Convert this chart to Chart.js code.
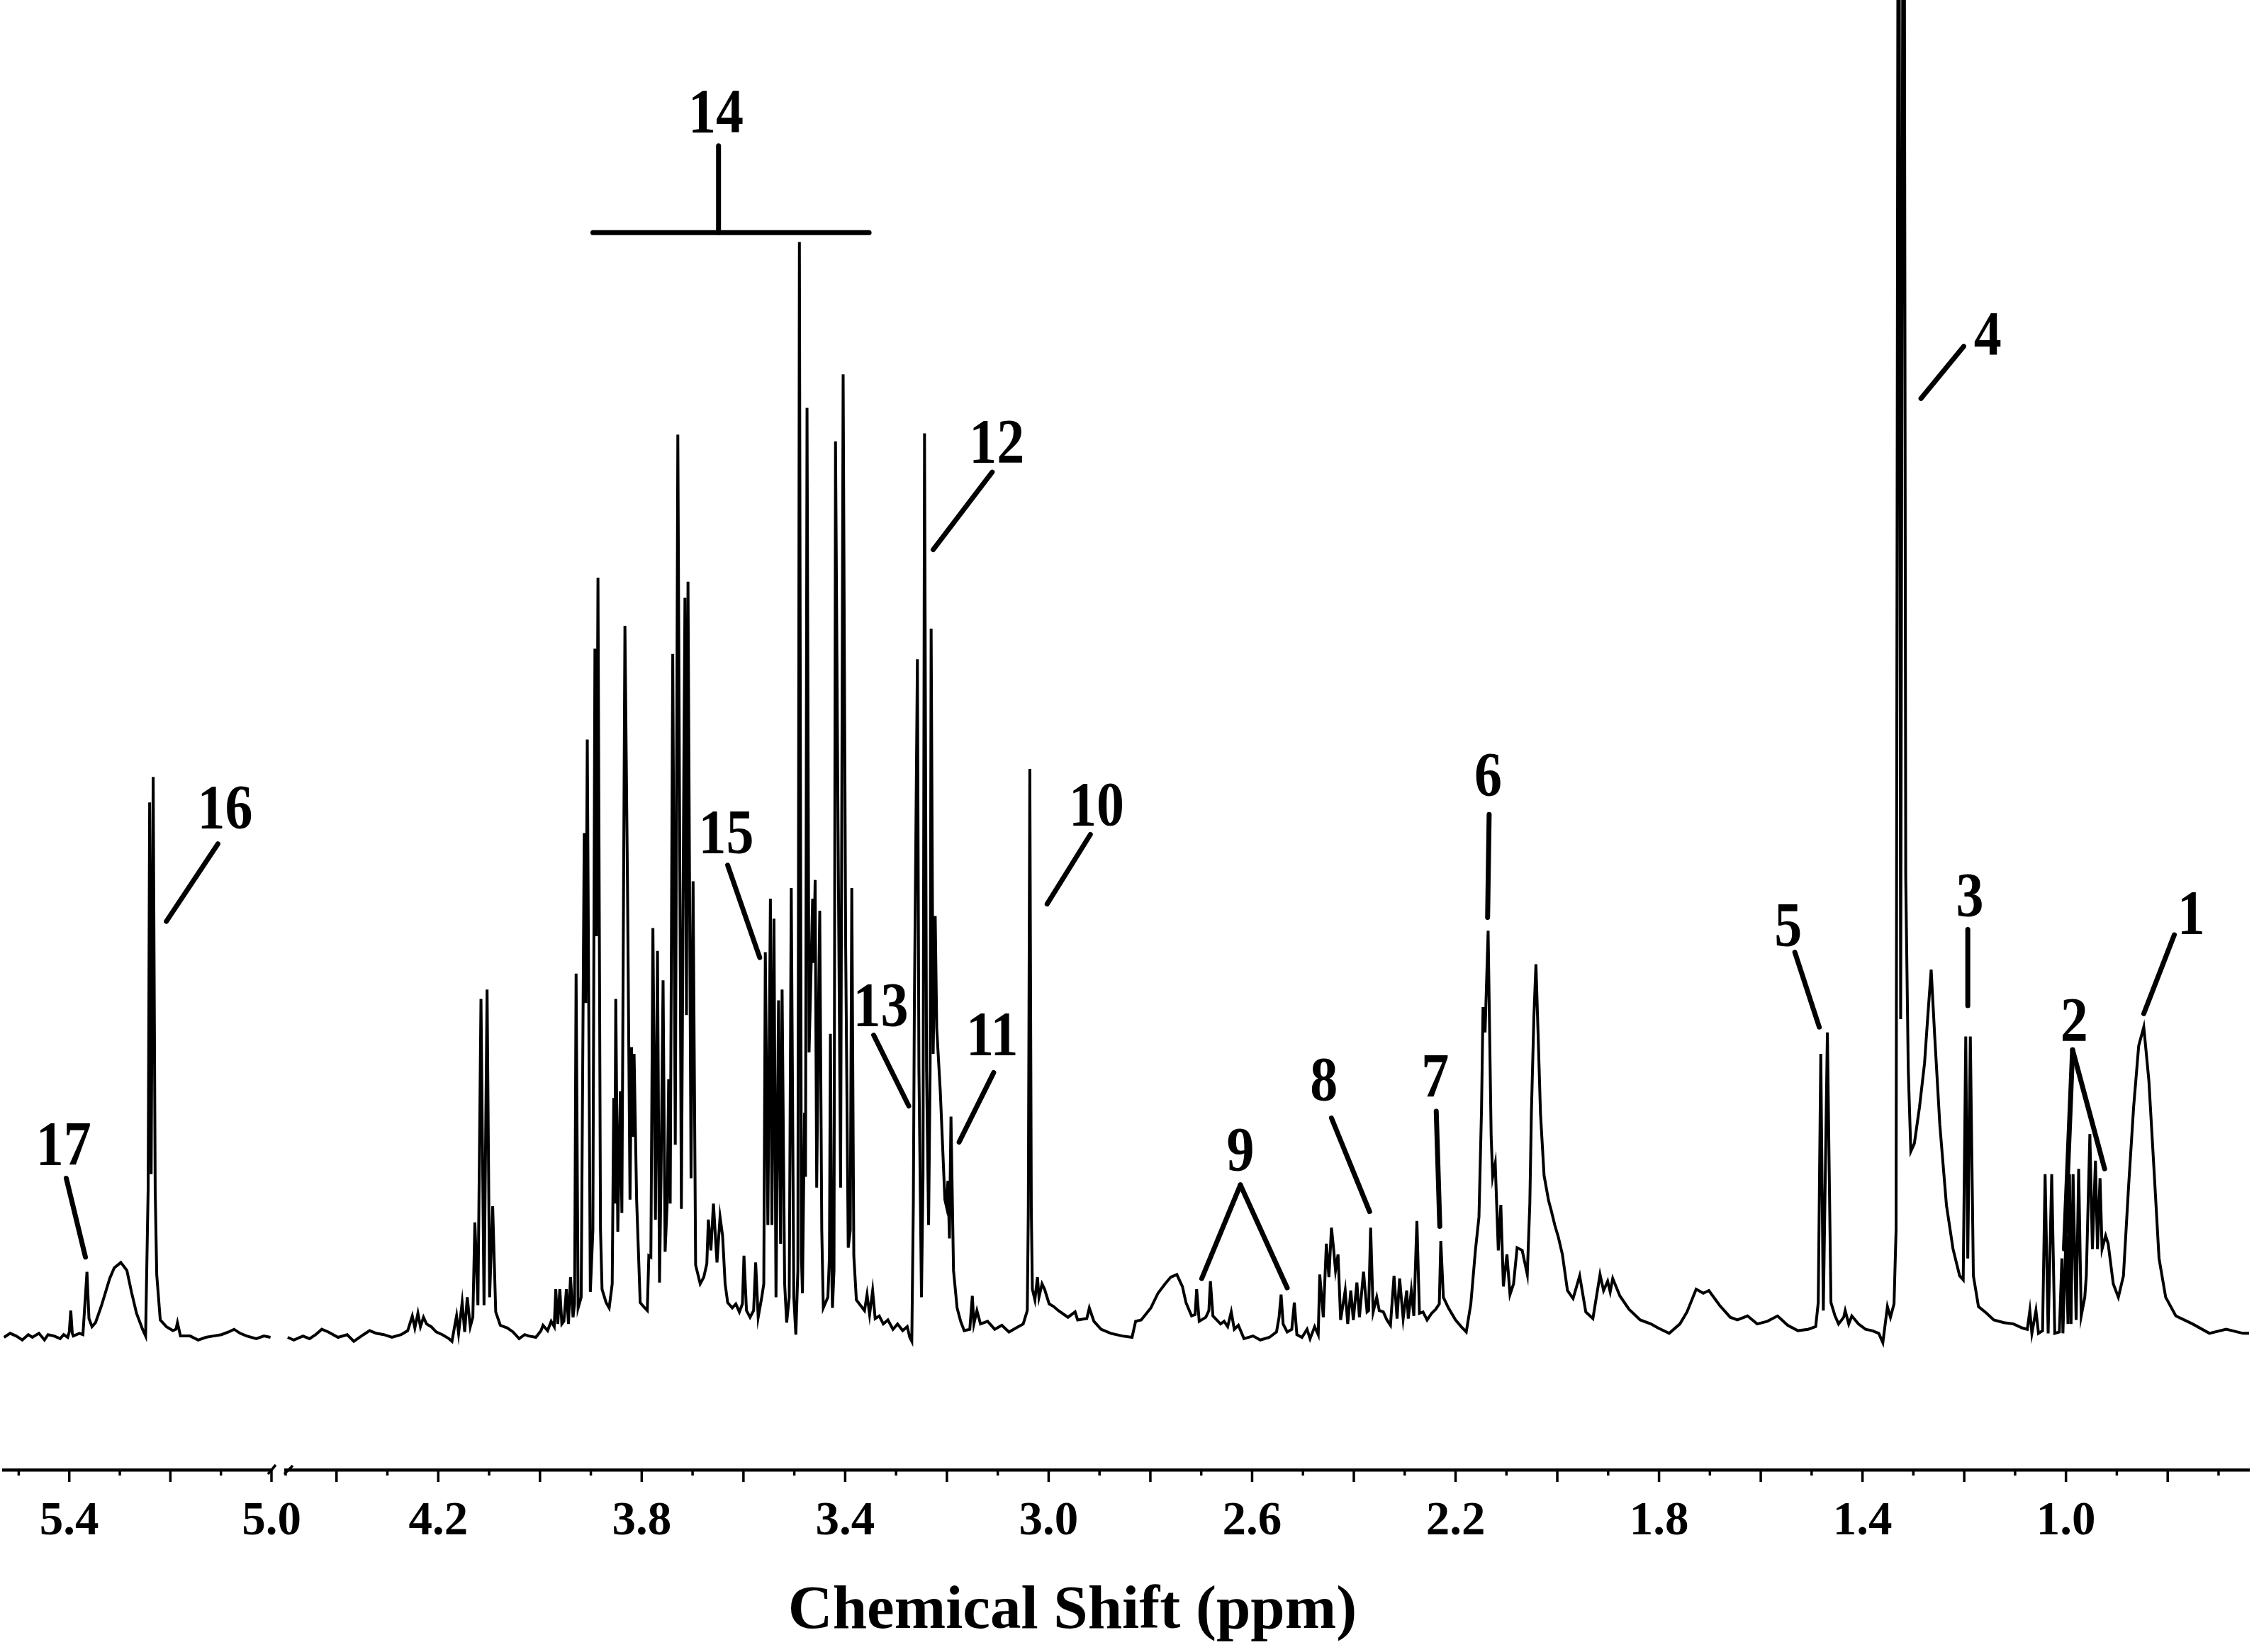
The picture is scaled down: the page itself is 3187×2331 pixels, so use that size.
<!DOCTYPE html>
<html>
<head>
<meta charset="utf-8">
<script src="https://cdn.jsdelivr.net/npm/chart.js@4.4.0/dist/chart.umd.min.js"></script>
<style>
  html, body { margin: 0; padding: 0; background: #fff; }
  #wrap { position: relative; width: 3187px; height: 2331px; overflow: hidden; background: #fff; }
  canvas { position: absolute; top: 0; }
  #leftChart { left: 0; }
  #rightChart { left: 360px; }
  #xTitle {
    position: absolute; left: 1513px; top: 2224px; transform: translateX(-50%);
    font: bold 87px "Liberation Serif", "Times New Roman", serif; line-height: 87px;
    white-space: nowrap; color: #000;
  }
</style>
</head>
<body>
<div id="wrap">
  <canvas id="leftChart" width="440" height="2331"></canvas>
  <canvas id="rightChart" width="2827" height="2331"></canvas>
  <div id="xTitle">Chemical Shift (ppm)</div>
</div>
<script>
// Spectrum: [chemical shift (ppm), intensity (baseline = 0)]
const anomericRegion = [
  [5.529, 0.0], [5.517, 0.3], [5.505, 0.1], [5.493, -0.2], [5.481, 0.2], [5.473, 0.0], [5.460, 0.3],
  [5.449, -0.2], [5.442, 0.2], [5.430, 0.1], [5.418, -0.1], [5.411, 0.2], [5.403, 0.0], [5.400, 0.4],
  [5.397, 2.0], [5.394, 0.3], [5.392, 0.1], [5.380, 0.3], [5.373, 0.2], [5.368, 3.1], [5.365, 4.9],
  [5.361, 1.4], [5.355, 0.8], [5.348, 1.1], [5.336, 2.4], [5.320, 4.4], [5.311, 5.2], [5.298, 5.6],
  [5.286, 5.0], [5.277, 3.4], [5.267, 1.8], [5.255, 0.6], [5.249, 0.1], [5.244, 11], [5.241, 40.0],
  [5.238, 12.2], [5.234, 41.9], [5.230, 11], [5.227, 4.7], [5.220, 1.3], [5.208, 0.8], [5.195, 0.5],
  [5.189, 0.6], [5.186, 1.1], [5.180, 0.1], [5.161, 0.1], [5.145, -0.2], [5.130, 0.0], [5.115, 0.1],
  [5.099, 0.2], [5.085, 0.4], [5.074, 0.6], [5.062, 0.3], [5.049, 0.1], [5.030, -0.1], [5.015, 0.1],
  [5.002, 0.0]
];

const sugarRegion = [
  [4.496, 0.0], [4.484, -0.2], [4.466, 0.1], [4.453, -0.1], [4.441, 0.2], [4.429, 0.6], [4.416, 0.4],
  [4.397, 0.0], [4.379, 0.2], [4.366, -0.3], [4.347, 0.2], [4.335, 0.5], [4.322, 0.3], [4.307, 0.2],
  [4.291, 0.0], [4.273, 0.2], [4.260, 0.5], [4.251, 1.6], [4.246, 0.7], [4.240, 1.8], [4.235, 0.8],
  [4.229, 1.5], [4.223, 1.0], [4.214, 0.8], [4.204, 0.4], [4.192, 0.2], [4.179, -0.1], [4.173, -0.3],
  [4.167, 1.0], [4.164, 1.6], [4.160, 0.3], [4.153, 2.6], [4.148, 0.4], [4.143, 3.0], [4.137, 0.8],
  [4.132, 1.5], [4.128, 8.6], [4.122, 2.4], [4.116, 25.3], [4.110, 2.4], [4.104, 26.0], [4.099, 3.0],
  [4.093, 9.8], [4.087, 1.9], [4.078, 0.9], [4.064, 0.7], [4.053, 0.4], [4.041, -0.1], [4.030, 0.2],
  [4.022, 0.1], [4.008, 0.0], [3.998, 0.5], [3.994, 0.9], [3.985, 0.5], [3.978, 1.2], [3.972, 0.8],
  [3.969, 3.6], [3.965, 1.0], [3.961, 3.6], [3.957, 1.0], [3.953, 1.2], [3.948, 3.6], [3.944, 1.0],
  [3.940, 4.5], [3.935, 1.5], [3.932, 2.5], [3.929, 27.2], [3.925, 2.2], [3.919, 3.0], [3.913, 37.7],
  [3.910, 25], [3.907, 44.7], [3.901, 3.4], [3.896, 8], [3.892, 51.5], [3.889, 30], [3.886, 56.8],
  [3.881, 8], [3.878, 3.6], [3.870, 2.6], [3.864, 2.2], [3.858, 4], [3.855, 17.9], [3.853, 10],
  [3.851, 25.3], [3.847, 7.9], [3.842, 18.4], [3.839, 9.3], [3.833, 53.2], [3.828, 34.1], [3.823, 10.3],
  [3.820, 21.7], [3.817, 15], [3.815, 21.2], [3.810, 10.3], [3.803, 2.6], [3.794, 2.2], [3.789, 2.0],
  [3.786, 6.1], [3.782, 6], [3.778, 30.6], [3.773, 8.8], [3.769, 28.9], [3.765, 4.1], [3.762, 12],
  [3.758, 26.7], [3.754, 6.4], [3.750, 10], [3.747, 19.3], [3.744, 10], [3.739, 51.1], [3.734, 14.4],
  [3.729, 67.5], [3.722, 9.6], [3.717, 43.7], [3.715, 55.3], [3.712, 24.1], [3.709, 56.5], [3.703, 11.9],
  [3.699, 34.1], [3.694, 5.4], [3.685, 4.0], [3.678, 4.5], [3.672, 5.5], [3.669, 8.8], [3.664, 6.5],
  [3.659, 10.0], [3.652, 5.6], [3.646, 9.0], [3.641, 7.6], [3.636, 4], [3.631, 2.6], [3.622, 2.2],
  [3.615, 2.5], [3.608, 1.9], [3.602, 2.5], [3.599, 6.1], [3.594, 2.0], [3.587, 1.5], [3.580, 2.0],
  [3.576, 5.6], [3.571, 1.5], [3.564, 3.0], [3.560, 4.0]
];

const midRegion = [
  [3.557, 28.8], [3.552, 8.4], [3.547, 32.8], [3.544, 8.4], [3.540, 31.3], [3.536, 3.0], [3.531, 25.2],
  [3.527, 7.0], [3.524, 26.0], [3.519, 4], [3.515, 1.1], [3.510, 3], [3.506, 33.6], [3.501, 3],
  [3.497, 0.2], [3.493, 5], [3.490, 81.9], [3.486, 6], [3.484, 3.3], [3.480, 16.8], [3.478, 12],
  [3.475, 69.5], [3.471, 21.3], [3.468, 26], [3.464, 32.8], [3.462, 28], [3.459, 34.2], [3.456, 11.2],
  [3.452, 26], [3.450, 31.9], [3.446, 8], [3.443, 2.2], [3.434, 3], [3.431, 6], [3.429, 22.7],
  [3.426, 4], [3.425, 2.2], [3.422, 5], [3.419, 67.0], [3.414, 38.1], [3.409, 11.2], [3.404, 72.0],
  [3.399, 29.1], [3.394, 6.7], [3.390, 8], [3.387, 33.6], [3.383, 6.1], [3.378, 2.8], [3.370, 2.4],
  [3.362, 2.0], [3.357, 3.2], [3.352, 1.7], [3.346, 3.5], [3.341, 1.4], [3.333, 1.6], [3.325, 1.0],
  [3.316, 1.3], [3.306, 0.6], [3.297, 1.0], [3.287, 0.5], [3.278, 0.8], [3.273, 0.0], [3.269, -0.3],
  [3.266, 10], [3.264, 24.6], [3.258, 50.7], [3.255, 20], [3.250, 3.0], [3.247, 12], [3.244, 67.6],
  [3.240, 20], [3.236, 8.4], [3.233, 20], [3.231, 53.0], [3.227, 21.2], [3.223, 31.5], [3.220, 23.1],
  [3.213, 18.4], [3.204, 10.3], [3.201, 9.8], [3.198, 11.7], [3.195, 7.4], [3.192, 16.5], [3.187, 5.0],
  [3.180, 2.2], [3.173, 1.2], [3.166, 0.5], [3.155, 0.6], [3.150, 3.1], [3.147, 1.0], [3.141, 2.0],
  [3.134, 1.0], [3.120, 1.2], [3.106, 0.6], [3.092, 0.9], [3.078, 0.4], [3.064, 0.7], [3.050, 1.0],
  [3.042, 2.0], [3.040, 9.3], [3.037, 42.5], [3.034, 9.3], [3.032, 3.6], [3.027, 2.8], [3.022, 4.5],
  [3.019, 3.0], [3.013, 4.0], [3.008, 3.6], [2.999, 2.5], [2.990, 2.3], [2.981, 2.0], [2.962, 1.5],
  [2.948, 1.9], [2.943, 1.3], [2.925, 1.4], [2.920, 2.2], [2.911, 1.2], [2.897, 0.6], [2.878, 0.3],
  [2.855, 0.1], [2.836, 0.0], [2.829, 1.2], [2.818, 1.3], [2.799, 2.2], [2.785, 3.3], [2.771, 4.0],
  [2.760, 4.5], [2.748, 4.7]
];

const aliphaticRegion = [
  [2.737, 3.8], [2.730, 2.6], [2.719, 1.6], [2.712, 1.7], [2.709, 3.6], [2.704, 1.2], [2.691, 1.5],
  [2.685, 2.0], [2.682, 4.2], [2.677, 1.6], [2.662, 1.0], [2.655, 1.2], [2.648, 0.8], [2.641, 1.9],
  [2.635, 0.6], [2.627, 0.9], [2.616, -0.1], [2.598, 0.1], [2.584, -0.2], [2.566, 0.0], [2.552, 0.4],
  [2.547, 1.5], [2.543, 3.2], [2.539, 1.0], [2.531, 0.4], [2.522, 0.6], [2.517, 2.6], [2.512, 0.2],
  [2.502, 0.0], [2.492, 0.6], [2.486, -0.1], [2.477, 0.8], [2.470, 0.2], [2.467, 4.7], [2.460, 1.5],
  [2.454, 7.0], [2.449, 4.5], [2.444, 8.2], [2.440, 6.7], [2.436, 5.0], [2.431, 6.2], [2.426, 1.3],
  [2.417, 3.5], [2.412, 1.0], [2.406, 3.5], [2.401, 1.3], [2.394, 4.1], [2.389, 1.5], [2.381, 4.9],
  [2.374, 1.9], [2.371, 2.0], [2.367, 8.2], [2.362, 1.9], [2.355, 3.0], [2.350, 2.0], [2.342, 1.9],
  [2.335, 1.3], [2.328, 0.9], [2.321, 4.6], [2.315, 1.4], [2.310, 4.4], [2.303, 1.4], [2.296, 3.5],
  [2.293, 1.4], [2.287, 3.5], [2.282, 1.6], [2.276, 8.7], [2.271, 1.8], [2.264, 1.9], [2.256, 1.3],
  [2.247, 1.8], [2.239, 2.1], [2.232, 2.5], [2.229, 7.2], [2.224, 3.0], [2.214, 2.2], [2.200, 1.3],
  [2.189, 0.8], [2.179, 0.4], [2.170, 2.5], [2.161, 6.5], [2.154, 9.0], [2.149, 17], [2.146, 24.7],
  [2.142, 22.8], [2.136, 30.4], [2.130, 15], [2.127, 12], [2.122, 13.0], [2.116, 6.5], [2.111, 9.9],
  [2.106, 3.8], [2.099, 6.2], [2.093, 3.2], [2.086, 4.0], [2.079, 6.7], [2.069, 6.5], [2.059, 4.7],
  [2.054, 10], [2.051, 16.7], [2.046, 24], [2.042, 27.9], [2.038, 23], [2.033, 16.7], [2.026, 12.1],
  [2.017, 10.2], [2.012, 9.5], [2.005, 8.4], [1.998, 7.5], [1.990, 6.2], [1.980, 3.5], [1.969, 2.9],
  [1.956, 4.6], [1.944, 1.9], [1.930, 1.4], [1.916, 4.7], [1.909, 3.5], [1.901, 4.2], [1.896, 3.4],
  [1.891, 4.4], [1.877, 3.1], [1.859, 2.1], [1.837, 1.3], [1.816, 1.0], [1.802, 0.7], [1.780, 0.3],
  [1.759, 1.0], [1.745, 1.9], [1.727, 3.6], [1.713, 3.3], [1.702, 3.5], [1.681, 2.4], [1.660, 1.5]
];

const methylRegion = [
  [1.646, 1.3], [1.626, 1.6], [1.607, 1.0], [1.587, 1.2], [1.567, 1.6], [1.547, 0.9], [1.527, 0.5],
  [1.507, 0.6], [1.492, 0.8], [1.487, 2.6], [1.482, 21.2], [1.477, 2.0], [1.469, 22.8], [1.462, 2.6],
  [1.454, 1.6], [1.447, 1.0], [1.437, 1.5], [1.434, 2.0], [1.427, 1.0], [1.421, 1.6], [1.408, 1.0],
  [1.394, 0.6], [1.381, 0.5], [1.368, 0.3], [1.360, -0.4], [1.351, 2.3], [1.345, 1.5], [1.338, 2.5],
  [1.334, 8], [1.329, 140], [1.325, 23.8], [1.319, 140], [1.315, 34.4], [1.310, 20], [1.305, 13.9],
  [1.298, 14.5], [1.288, 17.2], [1.278, 20.5], [1.272, 23.8], [1.265, 27.5], [1.258, 22.5], [1.248, 15.9],
  [1.235, 9.9], [1.222, 6.6], [1.209, 4.6], [1.202, 4.3], [1.197, 22.5], [1.193, 5.9], [1.188, 22.5],
  [1.182, 4.6], [1.172, 2.3], [1.156, 1.8], [1.142, 1.3], [1.122, 1.1], [1.103, 1.0], [1.086, 0.7],
  [1.076, 0.6], [1.071, 2.0], [1.067, 0.3], [1.059, 2.0], [1.054, 0.3], [1.046, 0.5], [1.041, 12.2],
  [1.035, 0.3], [1.028, 12.2], [1.022, 0.3], [1.013, 0.4], [1.008, 5.9], [1.006, 0.3], [1.000, 7.6],
  [0.996, 1.0], [0.993, 12.2], [0.990, 1.0], [0.986, 12.2], [0.980, 1.3], [0.975, 12.6], [0.970, 1.6],
  [0.963, 3.0], [0.960, 4.6], [0.953, 15.2], [0.948, 6.6], [0.942, 13.2], [0.938, 6.6], [0.933, 11.9],
  [0.929, 6.6], [0.922, 7.6], [0.917, 7.0], [0.907, 4.0], [0.897, 3.0], [0.887, 4.6], [0.877, 11.2],
  [0.867, 17.2], [0.857, 21.8], [0.847, 23.2], [0.837, 19.2], [0.827, 12.6], [0.817, 5.9], [0.804, 3.0],
  [0.784, 1.6], [0.751, 1.0], [0.718, 0.3], [0.685, 0.6], [0.652, 0.3], [0.640, 0.3]
];

// Tick labels and axis ranges
const axisLabels = [5.4, 5.0, 4.2, 3.8, 3.4, 3.0, 2.6, 2.2, 1.8, 1.4, 1.0];
const leftRange = [5.0, 5.53];
const rightRange = [0.64, 4.5];
const yRange = [-9.91, 100];

// Peak numbers: text centre and leader lines, in [ppm, intensity]
const leftMarks = [
  { text: '16', at: [5.092, 39.7], lines: [[5.106, 36.9, 5.208, 31.1]] },
  { text: '17', at: [5.411, 14.5], lines: [[5.406, 11.9, 5.368, 6.0]] }
];
const rightMarks = [
  { text: '14', at: [3.654, 91.7], lines: [[3.896, 82.6, 3.353, 82.6], [3.649, 89.1, 3.649, 82.6]] },
  { text: '12', at: [3.102, 67.0], lines: [[3.111, 64.7, 3.227, 58.9]] },
  { text: '10', at: [2.906, 39.9], lines: [[2.918, 37.6, 3.003, 32.4]] },
  { text: '11', at: [3.111, 22.7], lines: [[3.108, 19.8, 3.176, 14.6]] },
  { text: '13', at: [3.330, 24.9], lines: [[3.344, 22.6, 3.275, 17.3]] },
  { text: '15', at: [3.634, 37.8], lines: [[3.631, 35.3, 3.568, 28.4]] },
  { text: '9', at: [2.623, 14.1], lines: [[2.623, 11.4, 2.699, 4.4], [2.623, 11.4, 2.531, 3.7]] },
  { text: '8', at: [2.459, 19.3], lines: [[2.444, 16.4, 2.369, 9.4]] },
  { text: '7', at: [2.240, 19.6], lines: [[2.238, 16.9, 2.231, 8.3]] },
  { text: '6', at: [2.136, 42.1], lines: [[2.134, 39.1, 2.137, 31.4]] },
  { text: '5', at: [1.546, 30.9], lines: [[1.533, 28.8, 1.485, 23.2]] },
  { text: '4', at: [1.154, 75.1], lines: [[1.201, 74.1, 1.285, 70.2]] },
  { text: '3', at: [1.189, 33.1], lines: [[1.193, 30.5, 1.193, 24.8]] },
  { text: '2', at: [0.984, 23.8], lines: [[0.987, 21.5, 1.003, 6.6], [0.987, 21.5, 0.924, 12.6]] },
  { text: '1', at: [0.754, 31.8], lines: [[0.787, 30.1, 0.847, 24.2]] }
];

const serif = '"Liberation Serif", "Times New Roman", serif';
const AXIS_BOTTOM = 2074;

function toPoints(regions) {
  return regions.flat().map(p => ({ x: p[0], y: p[1] }));
}

// Tick marks (long every 0.2, short every 0.1), axis break and peak numbers
function marksPlugin(marks, breakSide) {
  return {
    id: 'nmrMarks',
    afterDraw(chart) {
      const ctx = chart.ctx;
      const xs = chart.scales.x;
      const ys = chart.scales.y;
      const area = chart.chartArea;
      ctx.save();
      ctx.strokeStyle = '#000';
      ctx.fillStyle = '#000';
      ctx.lineCap = 'butt';

      ctx.lineWidth = 3.5;
      xs.ticks.forEach(t => {
        const px = xs.getPixelForValue(t.value);
        const major = Math.round(t.value * 10) % 2 === 0;
        ctx.beginPath();
        ctx.moveTo(px, area.bottom);
        ctx.lineTo(px, area.bottom + (major ? 17 : 8));
        ctx.stroke();
      });

      ctx.lineWidth = 3.5;
      ctx.beginPath();
      if (breakSide === 'right') {
        ctx.moveTo(area.right - 5, area.bottom + 6);
        ctx.lineTo(area.right + 6, area.bottom - 7);
      } else {
        ctx.moveTo(area.left - 2, area.bottom + 6);
        ctx.lineTo(area.left + 10, area.bottom - 6);
      }
      ctx.stroke();

      ctx.lineWidth = 7;
      ctx.lineCap = 'round';
      marks.forEach(m => {
        m.lines.forEach(l => {
          ctx.beginPath();
          ctx.moveTo(xs.getPixelForValue(l[0]), ys.getPixelForValue(l[1]));
          ctx.lineTo(xs.getPixelForValue(l[2]), ys.getPixelForValue(l[3]));
          ctx.stroke();
        });
      });

      // numbers are slightly taller than plain Times, so stretch vertically
      ctx.font = 'bold 78px ' + serif;
      ctx.textAlign = 'center';
      ctx.textBaseline = 'alphabetic';
      marks.forEach(m => {
        ctx.save();
        ctx.translate(xs.getPixelForValue(m.at[0]), ys.getPixelForValue(m.at[1]));
        ctx.scale(1, 1.14);
        ctx.fillText(m.text, 0, 26);
        ctx.restore();
      });
      ctx.restore();
    }
  };
}

function makeChart(id, regions, range, marks, breakSide, padLeft, padRight) {
  return new Chart(document.getElementById(id), {
    type: 'line',
    data: {
      datasets: [{
        data: toPoints(regions),
        borderColor: '#000',
        borderWidth: 4,
        pointRadius: 0,
        tension: 0,
        fill: false
      }]
    },
    options: {
      responsive: false,
      animation: false,
      devicePixelRatio: 1,
      layout: { padding: { left: padLeft, right: padRight, top: 0, bottom: 0 } },
      plugins: {
        legend: { display: false },
        tooltip: { enabled: false }
      },
      scales: {
        x: {
          type: 'linear',
          reverse: true,
          min: range[0],
          max: range[1],
          border: { display: true, color: '#000', width: 4.5 },
          grid: { display: true, drawOnChartArea: false, drawTicks: false },
          ticks: {
            stepSize: 0.1,
            includeBounds: false,
            autoSkip: false,
            maxRotation: 0,
            padding: 33,
            color: '#000',
            font: { family: serif, size: 67, weight: 'bold' },
            callback: v => axisLabels.some(a => Math.abs(a - v) < 1e-6) ? Number(v).toFixed(1) : ''
          },
          afterFit: s => {
            s.height = 2331 - AXIS_BOTTOM;
            s.paddingLeft = 0;
            s.paddingRight = 0;
          }
        },
        y: { display: false, min: yRange[0], max: yRange[1] }
      }
    },
    plugins: [marksPlugin(marks, breakSide)]
  });
}

makeChart('leftChart', [anomericRegion], leftRange, leftMarks, 'right', 5, 57);
makeChart('rightChart', [sugarRegion, midRegion, aliphaticRegion, methylRegion], rightRange, rightMarks, 'left', 43, 14);
</script>
</body>
</html>
